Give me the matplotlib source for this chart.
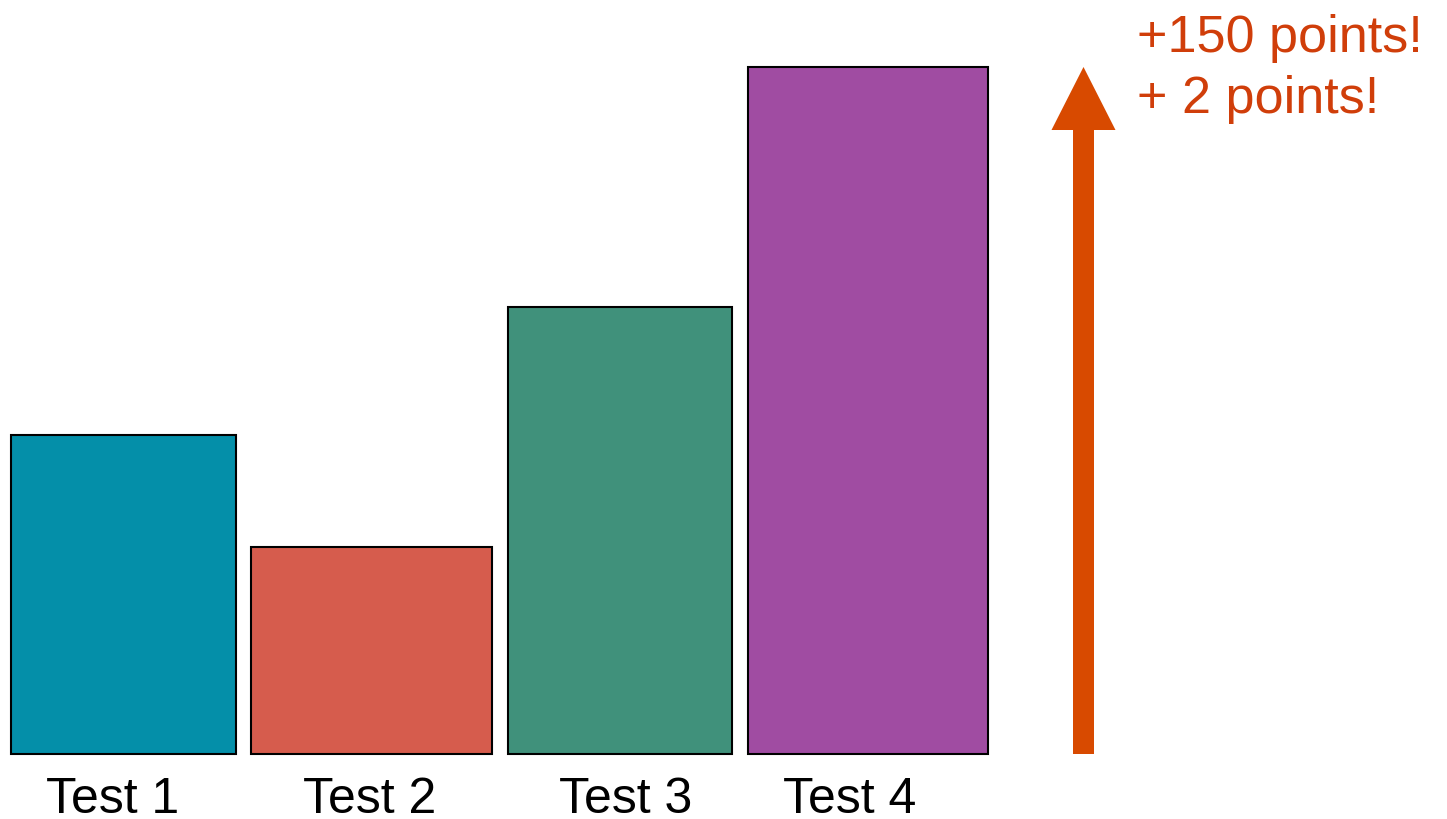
import matplotlib
matplotlib.use("Agg")
import matplotlib.pyplot as plt
from matplotlib.patches import FancyArrow

plt.rcParams['font.family'] = ['Liberation Sans', 'DejaVu Sans']

categories = ["Test 1", "Test 2", "Test 3", "Test 4"]
values = [46.4, 30.1, 65.1, 100.0]
colors = ["#048FA9", "#D65C4D", "#40917B", "#A04CA2"]
annotations = ["+150 points!", "+ 2 points!"]
arrow_value = 100.0

# layout (pixel units along x)
bar_left = [11, 251, 508, 748]
bar_width = [225, 241, 224, 240]
label_x = [113, 370, 626, 850]

W, H = 1447, 820
fig = plt.figure(figsize=(W / 100, H / 100), dpi=100)
base_px, top_px = 755, 68
ax = fig.add_axes([0, (H - base_px) / H, 1, (base_px - top_px) / H])
ax.set_xlim(0, W)
ax.set_ylim(0, 100)
for s in ax.spines.values():
    s.set_visible(False)
ax.set_yticks([])

ax.bar(bar_left, values, width=bar_width, align='edge', color=colors,
       edgecolor='black', linewidth=1.5, clip_on=False)

ax.set_xticks(label_x)
ax.set_xticklabels(categories, fontsize=36)
ax.tick_params(axis='x', length=0, pad=16)

px_per_unit = (base_px - top_px) / 100
head_len = 63 / px_per_unit
arr = FancyArrow(1083.5, 0, 0, arrow_value, width=21, head_width=64,
                 head_length=head_len, length_includes_head=True,
                 color="#D84A00", linewidth=0, clip_on=False)
ax.add_patch(arr)

fig.text(1137 / W, 1 - 52 / H, annotations[0], fontsize=37.5, color="#D03E0A",
         va='baseline', ha='left')
fig.text(1137 / W, 1 - 113 / H, annotations[1], fontsize=37.5, color="#D03E0A",
         va='baseline', ha='left')

fig.savefig("out.png", dpi=100)
